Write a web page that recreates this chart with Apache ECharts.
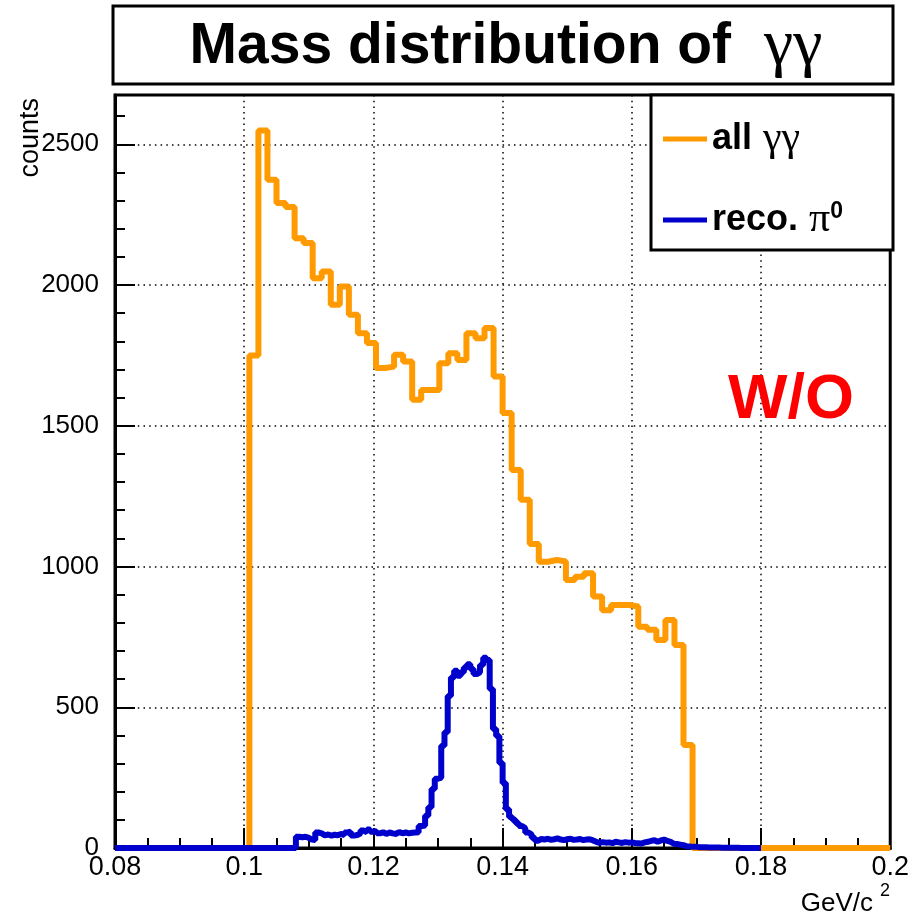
<!DOCTYPE html>
<html>
<head>
<meta charset="utf-8">
<script src="https://cdn.jsdelivr.net/npm/echarts@6/dist/echarts.min.js"></script>
<style>
html,body{margin:0;padding:0;background:#fff;}
#chart{width:912px;height:921px;}
</style>
</head>
<body>
<div id="chart"></div>
<script>
// ---- data ----
// all gamma-gamma: histogram bins starting at orangeStart, width orangeWidth
var orangeStart = 0.1008;
var orangeWidth = 0.0014;
var orangeCounts = [1750, 2549, 2374, 2291, 2277, 2166, 2149, 2024, 2048, 1930,
  1995, 1894, 1829, 1794, 1705, 1710, 1752, 1728, 1592, 1627,
  1627, 1722, 1758, 1734, 1829, 1811, 1847, 1675, 1545, 1343,
  1237, 1080, 1017, 1023, 1018, 952, 964, 976, 893, 845,
  863, 863, 858, 786, 775, 739, 810, 721, 366];

// reconstructed pi0: histogram bins starting at blueStart, width blueWidth
var blueStart = 0.108;
var blueWidth = 0.0005;
var blueCounts = [40, 38, 40, 36, 30, 28, 55, 52, 45, 48,
  44, 47, 45, 50, 46, 55, 58, 44, 46, 52,
  62, 55, 66, 58, 60, 52, 56, 50, 55, 52,
  50, 57, 52, 55, 52, 54, 55, 56,
  78, 80, 115, 145, 210, 246, 250, 363, 411, 540,
  606, 630, 612, 624, 641, 653, 636, 618, 624, 650,
  676, 668, 565, 423, 398, 302, 231, 138, 110, 100,
  89, 78, 71, 55, 48, 36, 26,
  32, 30, 33, 29, 31, 34, 30, 28, 31, 33, 29, 30, 32, 28, 30, 31, 27,
  22, 18, 21, 19, 20, 17, 22, 20, 18, 21, 19, 20, 18, 17, 16, 20, 22,
  25, 28, 22, 27, 30, 25, 22,
  15, 14, 12, 10,
  6, 5, 4, 4, 3, 3, 3, 2, 2, 2, 2, 1, 1, 1, 1, 1, 1, 0, 0, 0, 0, 0, 0, 0];

var xMin = 0.08, xMax = 0.2, xStep = 0.02;
var yMin = 0, yMax = 2675, yStep = 500;
var orangeRangeEnd = 0.2;
var blueRangeEnd = 0.18;

var seriesNames = ['all γγ', 'reco. π0'];
var titleText = 'Mass distribution of';
var titleSymbol = 'γγ';
var yAxisTitle = 'counts';
var xAxisTitle = 'GeV/c';
var noteText = 'W/O';

function histData(start, width, counts, rangeEnd) {
  var d = [[xMin, 0]];
  for (var i = 0; i < counts.length; i++) {
    d.push([+(start + width * i).toFixed(6), counts[i]]);
  }
  var end = +(start + width * counts.length).toFixed(6);
  d.push([end, 0]);
  if (rangeEnd > end) d.push([rangeEnd, 0]);
  return d;
}

var SANS = '"Liberation Sans", Arial, Helvetica, sans-serif';
var SERIF = '"Liberation Serif", "Times New Roman", serif';

var chart = echarts.init(document.getElementById('chart'));
var option = {
  animation: false,
  backgroundColor: '#ffffff',
  grid: {
    left: 115, right: 19, top: 95, bottom: 73,
    show: true, borderColor: '#000', borderWidth: 3, backgroundColor: 'transparent'
  },
  xAxis: {
    type: 'value', min: xMin, max: xMax, interval: xStep,
    axisLine: { show: true, onZero: false, lineStyle: { color: '#000', width: 3 } },
    axisTick: { show: true, inside: true, length: 20, lineStyle: { color: '#000', width: 2 } },
    minorTick: { show: true, splitNumber: 4, length: 10, lineStyle: { color: '#000', width: 2 } },
    splitLine: { show: true, lineStyle: { color: '#000', width: 1.5, type: [1.5, 4.2] } },
    axisLabel: { color: '#000', fontSize: 27, fontFamily: SANS, margin: 6,
      formatter: function (v) { return String(+v.toFixed(4)); } }
  },
  yAxis: {
    type: 'value', min: yMin, max: yMax, interval: yStep,
    axisLine: { show: true, lineStyle: { color: '#000', width: 3 } },
    axisTick: { show: true, inside: true, length: 20, lineStyle: { color: '#000', width: 2 } },
    minorTick: { show: true, splitNumber: 5, length: 10, lineStyle: { color: '#000', width: 2 } },
    splitLine: { show: true, lineStyle: { color: '#000', width: 1.5, type: [1.5, 4.2] } },
    axisLabel: { color: '#000', fontSize: 26, fontFamily: SANS, margin: 16, showMaxLabel: false,
      formatter: function (v) { return String(Math.round(v)); } }
  },
  legend: {
    orient: 'vertical', left: 658, top: 113,
    itemWidth: 44, itemHeight: 5, itemGap: 39, icon: 'rect',
    data: seriesNames,
    formatter: function (name) {
      if (name === seriesNames[0]) return '{b|all}{g|γγ}';
      return '{b|reco.}{g|π}{s|0}';
    },
    textStyle: {
      color: '#000', lineHeight: 40,
      rich: {
        b: { fontFamily: SANS, fontWeight: 'bold', fontSize: 36, color: '#000', lineHeight: 40 },
        g: { fontFamily: SERIF, fontSize: 42, color: '#000', lineHeight: 40, padding: [0, 0, 0, 11] },
        s: { fontFamily: SANS, fontWeight: 'bold', fontSize: 23, color: '#000', verticalAlign: 'top', lineHeight: 40 }
      }
    }
  },
  graphic: [
    { type: 'rect', z: 3, shape: { x: 651, y: 95, width: 242, height: 155 },
      style: { fill: '#fff', stroke: '#000', lineWidth: 3 } },
    { type: 'rect', z: 3, shape: { x: 113, y: 6, width: 780, height: 78 },
      style: { fill: '#fff', stroke: '#000', lineWidth: 3 } },
    { type: 'text', z: 5, x: 506, y: 47,
      style: {
        text: '{t|' + titleText + '}{g|' + titleSymbol + '}',
        align: 'center', verticalAlign: 'middle',
        rich: {
          t: { fontFamily: SANS, fontWeight: 'bold', fontSize: 57, fill: '#000' },
          g: { fontFamily: SERIF, fontSize: 66, fill: '#000', padding: [0, 0, 0, 33] }
        }
      } },
    { type: 'text', z: 5, x: 31, y: 98, rotation: Math.PI / 2,
      style: { text: yAxisTitle, fontFamily: SANS, fontSize: 27, fill: '#000',
        align: 'right', verticalAlign: 'middle' } },
    { type: 'text', z: 5, x: 890, y: 904,
      style: {
        text: '{a|' + xAxisTitle + '}{s|2}',
        align: 'right', verticalAlign: 'middle',
        rich: {
          a: { fontFamily: SANS, fontSize: 26, fill: '#000', lineHeight: 44 },
          s: { fontFamily: SANS, fontSize: 18, fill: '#000', verticalAlign: 'top', lineHeight: 44, padding: [0, 0, 0, 7] }
        }
      } },
    { type: 'text', z: 5, x: 791, y: 401,
      style: { text: noteText, fontFamily: SANS, fontWeight: 'bold', fontSize: 63, fill: '#ff0000',
        align: 'center', verticalAlign: 'middle' } }
  ],
  series: [
    { name: seriesNames[0], type: 'line', step: 'end', symbol: 'none', z: 2,
      color: '#ff9a00',
      lineStyle: { color: '#ff9a00', width: 6 },
      data: histData(orangeStart, orangeWidth, orangeCounts, orangeRangeEnd) },
    { name: seriesNames[1], type: 'line', step: 'end', symbol: 'none', z: 2,
      color: '#0000cc',
      lineStyle: { color: '#0000cc', width: 6 },
      data: histData(blueStart, blueWidth, blueCounts, blueRangeEnd) }
  ]
};
chart.setOption(option);
</script>
</body>
</html>
